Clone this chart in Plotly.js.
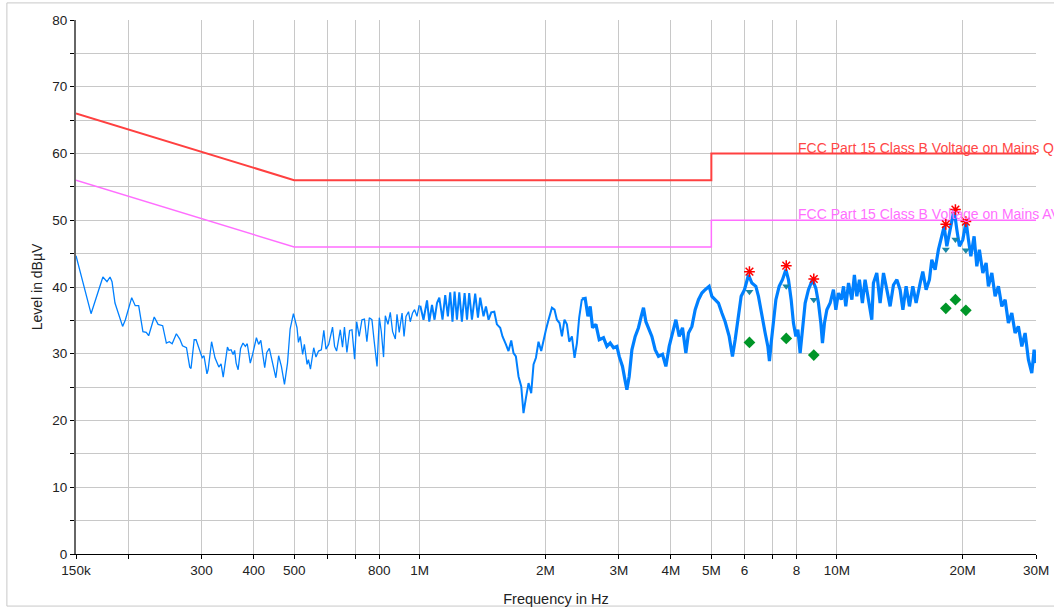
<!DOCTYPE html>
<html><head><meta charset="utf-8">
<script src="https://cdn.plot.ly/plotly-3.0.1.min.js"></script>
<style>html,body{margin:0;padding:0;background:#fff}#chart{width:1054px;height:608px}</style>
</head><body><div id="chart"></div>
<script>
// Frequencies in MHz, levels in dBµV
const limitFreq = [0.15, 0.5, 5, 5, 30];
const qpLimit   = [66, 56, 56, 60, 60];
const avLimit   = [56, 46, 46, 50, 50];

const lowFreq = [0.150,0.163,0.174,0.178,0.181,0.183,0.186,0.194,0.197,0.204,0.208,0.212,0.217,0.221,0.224,0.231,0.236,0.242,0.247,0.251,0.255,0.261,0.266,0.270,0.276,0.281,0.283,0.288,0.291,0.295,0.301,0.304,0.309,0.311,0.317,0.323,0.330,0.334,0.338,0.346,0.349,0.353,0.357,0.360,0.363,0.367,0.372,0.377,0.382,0.386,0.3925,0.3975,0.406,0.411,0.416,0.425,0.430,0.436,0.442,0.452,0.459,0.466,0.474,0.482,0.489,0.498,0.508,0.512,0.517,0.524,0.529,0.537,0.541,0.547,0.557,0.564,0.572,0.581,0.589,0.596,0.605,0.618,0.625,0.632,0.645,0.653,0.660,0.669,0.679,0.688,0.698,0.706,0.716,0.727,0.737,0.747,0.757,0.768,0.777,0.790,0.800,0.809,0.819,0.827,0.839,0.850,0.861,0.874,0.882,0.893,0.907,0.917,0.927,0.940,0.949,0.961,0.972,0.985,0.997];
const lowLevel = [44.7,36.0,41.5,40.8,41.5,40.8,37.6,34.1,35.1,38.4,37.2,37.2,33.3,33.2,32.7,35.5,34.4,34.2,31.6,31.8,31.5,33.0,32.2,31.2,30.9,28.0,27.8,32.1,32.1,30.9,29.4,29.7,27.0,27.6,31.8,29.4,28.0,28.5,26.5,31.0,30.5,30.6,29.9,30.5,28.6,27.6,30.8,31.6,31.1,31.5,28.6,29.9,32.4,31.4,32.0,27.9,30.2,30.8,29.2,26.4,29.7,28.1,25.4,28.6,33.7,36.0,33.9,31.7,32.6,29.9,31.4,28.4,29.1,27.7,30.9,29.5,30.4,30.6,33.5,30.7,31.4,34.0,31.1,30.4,33.6,31.0,34.0,30.2,33.5,33.6,29.2,34.8,32.6,35.1,35.2,31.8,35.4,35.1,32.1,28.1,35.4,33.3,29.5,35.7,34.4,36.2,33.3,32.2,35.9,33.2,36.1,32.6,35.6,36.3,34.8,36.1,36.6,35.6,37.3];

const highFreq = [1.003,1.021,1.041,1.054,1.070,1.085,1.100,1.114,1.134,1.151,1.168,1.183,1.198,1.212,1.228,1.244,1.262,1.281,1.298,1.314,1.334,1.358,1.379,1.396,1.422,1.441,1.462,1.484,1.509,1.531,1.559,1.579,1.609,1.632,1.657,1.678,1.700,1.725,1.751,1.773,1.797,1.823,1.850,1.874,1.899,1.926,1.955,1.980,2.007,2.036,2.074,2.104,2.132,2.163,2.192,2.223,2.253,2.282,2.316,2.350,2.381,2.411,2.447,2.492,2.530,2.562,2.595,2.644,2.693,2.757,2.809,2.861,2.914,2.969,3.007,3.062,3.108,3.137,3.177,3.225,3.284,3.344,3.395,3.438,3.484,3.548,3.601,3.667,3.735,3.818,3.890,3.962,4.035,4.111,4.187,4.264,4.344,4.407,4.491,4.573,4.657,4.745,4.832,4.940,5.015,5.107,5.200,5.299,5.396,5.517,5.618,5.702,5.788,5.894,6.003,6.137,6.253,6.392,6.485,6.608,6.729,6.830,6.890,6.955,7.044,7.139,7.270,7.403,7.543,7.652,7.767,7.866,7.971,8.060,8.162,8.267,8.391,8.545,8.736,8.902,9.030,9.150,9.232,9.334,9.459,9.632,9.809,9.940,10.08,10.24,10.37,10.50,10.66,10.86,11.01,11.16,11.32,11.51,11.68,11.90,12.12,12.23,12.46,12.69,12.93,13.17,13.41,13.66,13.92,14.17,14.39,14.65,14.92,15.20,15.48,15.83,16.06,16.36,16.66,16.88,17.19,17.51,17.84,18.07,18.34,18.61,18.85,19.09,19.38,19.66,20.03,20.40,20.66,20.94,21.32,21.64,21.95,22.37,22.78,23.07,23.51,23.94,24.38,24.84,25.30,25.76,26.25,26.73,27.22,27.74,28.25,28.77,29.31,29.69,30.0];
const highLevel = [37.2,35.1,38.0,34.8,37.3,35.1,37.6,38.4,35.1,38.8,35.6,39.2,34.8,39.3,35.1,39.2,34.8,39.1,35.1,39.1,35.1,39.0,35.4,38.4,35.6,37.1,35.1,36.2,36.3,34.4,33.9,32.6,31.4,30.4,32.0,30.1,29.6,26.6,25.1,21.1,23.4,25.6,24.1,28.4,29.4,31.8,30.4,32.1,33.6,35.1,36.9,36.6,35.1,34.6,32.6,35.1,34.4,31.8,32.6,29.4,31.6,35.4,38.2,38.3,35.6,37.1,33.9,34.4,32.1,32.4,31.1,31.6,30.9,31.1,29.6,28.1,25.9,24.6,26.6,30.6,32.6,33.9,35.6,36.9,34.8,33.6,32.6,30.6,29.6,29.9,28.1,31.1,33.1,35.1,32.6,33.9,30.1,33.1,34.1,36.6,38.1,39.1,39.6,40.1,38.6,38.1,37.6,36.1,34.8,32.6,29.6,32.1,35.1,38.6,39.6,41.8,40.6,40.1,38.6,35.6,33.1,31.1,28.9,31.6,35.1,38.1,40.1,41.1,42.6,41.1,38.1,34.6,32.6,33.6,30.1,33.1,37.6,39.6,41.1,39.8,37.6,34.6,31.6,34.6,36.6,37.6,39.6,36.6,39.1,38.1,40.1,37.1,40.6,38.1,41.8,38.6,41.1,37.6,41.1,38.1,35.1,40.6,42.1,37.6,42.1,39.6,37.1,40.3,41.1,39.6,36.6,40.1,37.1,40.1,37.6,40.6,42.3,39.6,41.1,44.1,42.6,45.6,47.6,49.1,46.1,48.1,49.6,51.6,48.6,46.1,47.1,49.8,47.1,44.6,47.6,43.1,45.6,42.1,43.6,40.1,42.1,38.6,40.1,37.1,38.1,34.6,36.1,33.1,34.1,31.1,33.1,29.1,27.1,30.6,28.6];

const peakFreq   = [6.17, 7.56, 8.80, 18.24, 19.23, 20.37];
const qpPeak     = [42.3, 43.2, 41.2, 49.4, 51.6, 49.8];
const qpFinal    = [39.3, 40.1, 38.1, 45.6, 47.1, 45.5];
const avFinal    = [31.7, 32.3, 29.8, 36.8, 38.1, 36.5];

const xTickVals = [0.15,0.2,0.3,0.4,0.5,0.6,0.7,0.8,1,2,3,4,5,6,7,8,10,20,30];
const xTickText = ['150k','','300','400','500','','','800','1M','2M','3M','4M','5M','6','','8','10M','20M','30M'];
const yTickVals = [0,5,10,15,20,25,30,35,40,45,50,55,60,65,70,75,80];
const yTickText = ['0','','10','','20','','30','','40','','50','','60','','70','','80'];

const blue = 'rgb(0,128,255)';
// split the measured trace: comb region (thinner) and dense band region (thicker)
const split = highFreq.findIndex(f => f >= 2.447);
const combF = highFreq.slice(0, split + 1), combL = highLevel.slice(0, split + 1);
const bandF = highFreq.slice(split), bandL = highLevel.slice(split);

const traces = [
  {x: limitFreq, y: qpLimit, mode:'lines', line:{color:'rgb(255,64,64)', width:2}},
  {x: limitFreq, y: avLimit, mode:'lines', line:{color:'rgb(255,110,255)', width:1.5}},
  {x: lowFreq, y: lowLevel, mode:'lines', line:{color: blue, width:1.3}},
  {x: combF, y: combL, mode:'lines', line:{color: blue, width:2}},
  {x: bandF, y: bandL, mode:'lines', line:{color: blue, width:3.2}},
  {x: peakFreq, y: qpFinal, mode:'markers', marker:{symbol:'triangle-down', size:7, color:'rgb(25,135,165)'}},
  {x: peakFreq, y: avFinal, mode:'markers', marker:{symbol:'diamond', size:9, color:'rgb(0,150,40)'}},
  {x: peakFreq, y: qpPeak, mode:'markers', marker:{symbol:'asterisk-open', size:9, color:'red', line:{color:'red', width:1.5}}}
];

const layout = {
  width:1054, height:608,
  margin:{l:76, r:18, t:20, b:54},
  paper_bgcolor:'#fff', plot_bgcolor:'#fff',
  showlegend:false, hovermode:false,
  font:{family:'Liberation Sans, Arial, sans-serif', size:13.5, color:'#222'},
  xaxis:{type:'log', range:[Math.log10(0.15), Math.log10(30)], tickmode:'array', tickvals:xTickVals, ticktext:xTickText,
    showgrid:true, gridcolor:'#c8c8c8', gridwidth:1, showline:true, linecolor:'#000', linewidth:1,
    ticks:'outside', ticklen:4, tickcolor:'#000', zeroline:false,
    title:{text:'Frequency in Hz', font:{size:14.5}, standoff:16}},
  yaxis:{range:[0,80], tickmode:'array', tickvals:yTickVals, ticktext:yTickText,
    showgrid:true, gridcolor:'#c8c8c8', gridwidth:1, showline:true, linecolor:'#666', linewidth:2,
    ticks:'outside', ticklen:4, tickcolor:'#000', zeroline:false,
    title:{text:'Level in dBµV', font:{size:14}, standoff:6}},
  annotations:[
    {x:Math.log10(7.98), y:60, xref:'x', yref:'y', xanchor:'left', yanchor:'bottom', yshift:-4, showarrow:false,
     text:'FCC Part 15 Class B Voltage on Mains QP', font:{color:'rgb(255,70,70)', size:14}},
    {x:Math.log10(7.98), y:50, xref:'x', yref:'y', xanchor:'left', yanchor:'bottom', yshift:-4, showarrow:false,
     text:'FCC Part 15 Class B Voltage on Mains AV', font:{color:'rgb(255,110,255)', size:14}}
  ],
  shapes:[
    {type:'rect', xref:'paper', yref:'paper', x0:-0.072, x1:1.03, y0:-0.0975, y1:1.032, line:{color:'#c8c8c8', width:1}, fillcolor:'rgba(0,0,0,0)'}
  ]
};

Plotly.newPlot('chart', traces, layout, {displayModeBar:false, staticPlot:true});
</script></body></html>
